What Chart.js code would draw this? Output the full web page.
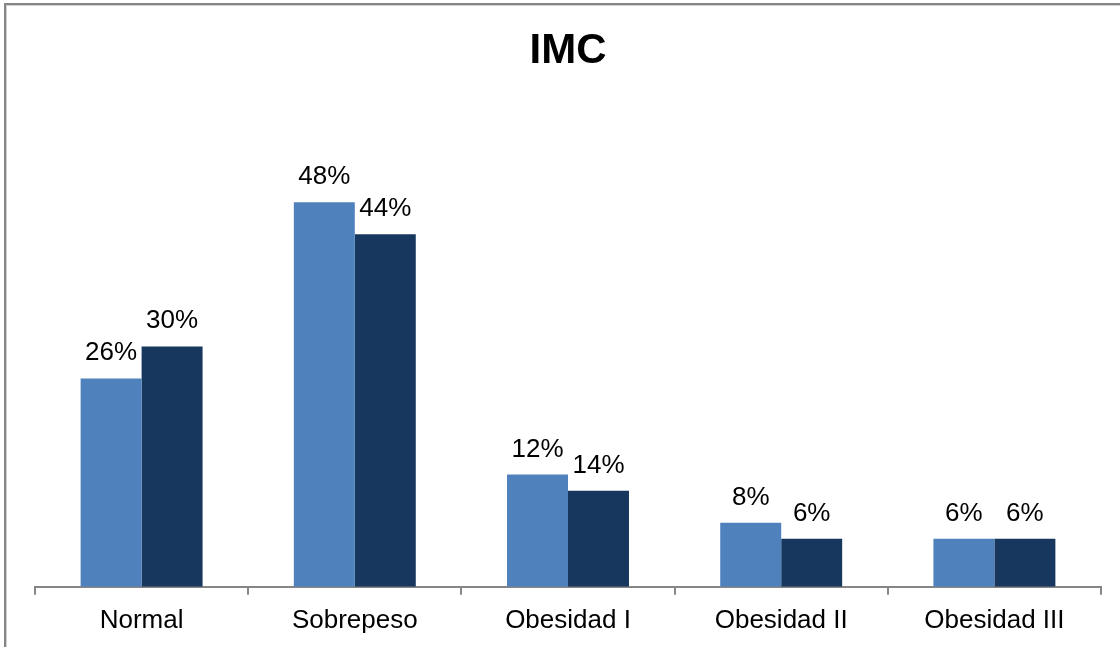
<!DOCTYPE html>
<html>
<head>
<meta charset="utf-8">
<script src="https://cdn.jsdelivr.net/npm/chart.js@4/dist/chart.umd.min.js"></script>
<style>
  html, body { margin: 0; padding: 0; background: #fff; }
  #wrap { width: 1120px; height: 647px; }
</style>
</head>
<body>
<div id="wrap"><canvas id="imcChart" width="1120" height="647"></canvas></div>
<script>
"use strict";

// Chart data
const categories = ['Normal', 'Sobrepeso', 'Obesidad I', 'Obesidad II', 'Obesidad III'];
const seriesA = [26, 48, 14, 8, 6];
const seriesB = [30, 44, 12, 6, 6];
// Data label texts as printed on the original
const labelsA = ['26%', '48%', '12%', '8%', '6%'];
const labelsB = ['30%', '44%', '14%', '6%', '6%'];

const FONT = '"Liberation Sans", Arial, Helvetica, sans-serif';

// Frame line around the chart (right/bottom fall outside the picture)
const framePlugin = {
    id: 'frame',
    beforeDraw: (chart) => {
        const ctx = chart.ctx;
        ctx.save();
        ctx.fillStyle = '#ffffff';
        ctx.fillRect(0, 0, chart.width, chart.height);
        ctx.strokeStyle = '#d0d0d0';
        ctx.lineWidth = 1;
        ctx.strokeRect(6.5, 5.5, chart.width + 20, chart.height + 20);
        ctx.strokeStyle = '#868686';
        ctx.lineWidth = 2;
        ctx.strokeRect(5, 4, chart.width + 20, chart.height + 20);
        ctx.restore();
    }
};

// Percent labels above each bar
const barLabelPlugin = {
    id: 'barLabels',
    afterDatasetsDraw: (chart) => {
        const ctx = chart.ctx;
        const texts = [labelsA, labelsB];
        ctx.save();
        ctx.font = '26px ' + FONT;
        ctx.fillStyle = '#000000';
        ctx.textAlign = 'center';
        ctx.textBaseline = 'alphabetic';
        chart.data.datasets.forEach((ds, i) => {
            chart.getDatasetMeta(i).data.forEach((bar, j) => {
                ctx.fillText(texts[i][j], bar.x, bar.y - 18);
            });
        });
        ctx.restore();
    }
};

const ctx = document.getElementById('imcChart').getContext('2d');
const chart = new Chart(ctx, {
    type: 'bar',
    data: {
        labels: categories,
        datasets: [{
            label: 'Serie 1',
            data: seriesA,
            backgroundColor: '#4F81BD',
            borderWidth: 0
        }, {
            label: 'Serie 2',
            data: seriesB,
            backgroundColor: '#17375E',
            borderWidth: 0
        }]
    },
    options: {
        responsive: false,
        animation: false,
        layout: {
            padding: { left: 35, right: 19, top: 0, bottom: 1 }
        },
        datasets: {
            bar: { barPercentage: 1.0, categoryPercentage: 0.572 }
        },
        plugins: {
            legend: { display: false },
            tooltip: { enabled: false },
            title: {
                display: true,
                text: 'IMC',
                color: '#000000',
                font: { family: FONT, size: 42, weight: 'bold' },
                padding: { top: 26, bottom: 29.6 }
            }
        },
        scales: {
            x: {
                offset: true,
                grid: {
                    offset: true,
                    drawOnChartArea: false,
                    drawTicks: true,
                    tickLength: 8,
                    color: '#868686',
                    lineWidth: 2
                },
                border: { display: true, color: '#868686', width: 2 },
                ticks: {
                    color: '#000000',
                    padding: 10,
                    font: { family: FONT, size: 26 }
                }
            },
            y: {
                display: false,
                min: 0,
                max: 60
            }
        }
    },
    plugins: [framePlugin, barLabelPlugin]
});
</script>
</body>
</html>
